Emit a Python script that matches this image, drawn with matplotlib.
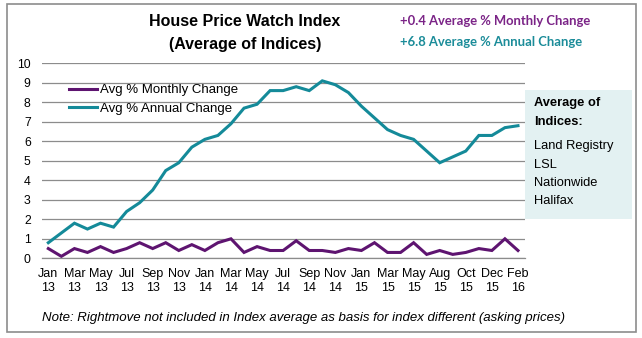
import matplotlib
matplotlib.use("Agg")
import matplotlib.pyplot as plt
from matplotlib.patches import Rectangle

months = ["Jan 13","Feb 13","Mar 13","Apr 13","May 13","Jun 13","Jul 13","Aug 13","Sep 13","Oct 13","Nov 13","Dec 13",
          "Jan 14","Feb 14","Mar 14","Apr 14","May 14","Jun 14","Jul 14","Aug 14","Sep 14","Oct 14","Nov 14","Dec 14",
          "Jan 15","Feb 15","Mar 15","Apr 15","May 15","Jul 15","Aug 15","Sep 15","Oct 15","Nov 15","Dec 15","Jan 16","Feb 16"]
monthly = [0.5,0.1,0.5,0.3,0.6,0.3,0.5,0.8,0.5,0.8,0.4,0.7,
           0.4,0.8,1.0,0.3,0.6,0.4,0.4,0.9,0.4,0.4,0.3,0.5,
           0.4,0.8,0.3,0.3,0.8,0.2,0.4,0.2,0.3,0.5,0.4,1.0,0.4]
annual = [0.8,1.3,1.8,1.5,1.8,1.6,2.4,2.85,3.5,4.5,4.9,5.7,
          6.1,6.3,6.9,7.7,7.9,8.6,8.6,8.8,8.6,9.1,8.9,8.5,
          7.8,7.2,6.6,6.3,6.1,5.5,4.9,5.2,5.5,6.3,6.3,6.7,6.8]
tick_labels = [m.replace(" ", "\n") for m in months]

PURPLE = "#5E1470"
TEAL = "#148A99"

fig = plt.figure(figsize=(6.42, 3.38), dpi=100)
plt.rcParams['font.family'] = ['Liberation Sans', 'DejaVu Sans']
W, H = 642, 338
ax = fig.add_axes([41.8/W, 1-258.3/H, (524.5-41.8)/W, (258.3-63.3)/H])

x = list(range(len(months)))
ax.plot(x, monthly, color=PURPLE, lw=2.2, label="Avg % Monthly Change", solid_joinstyle='miter')
ax.plot(x, annual, color=TEAL, lw=2.2, label="Avg % Annual Change", solid_joinstyle='miter')
ax.set_xlim(-0.5, len(months)-0.5)
ax.set_ylim(0, 10)
ax.set_yticks(range(0, 11))
ax.yaxis.grid(True, color="#8c8c8c", lw=0.9)
ax.set_axisbelow(True)
ax.set_xticks(x[::2])
ax.set_xticklabels(tick_labels[::2], fontsize=9, linespacing=1.2)
ax.tick_params(axis='both', length=0, colors="#000000")
ax.tick_params(axis='y', pad=8, labelsize=8.8)
ax.tick_params(axis='x', pad=7, labelsize=9)
for s in ["top", "right", "left"]:
    ax.spines[s].set_visible(False)
ax.spines["bottom"].set_color("#8c8c8c")
ax.spines["bottom"].set_linewidth(0.9)

leg = ax.legend(loc="upper left", bbox_to_anchor=(0.045, 0.92), frameon=False, fontsize=9.5,
                handlelength=2.1, handletextpad=0.3, labelspacing=0.45, borderaxespad=0)

# Title
fig.text(245/W, 1-21/H, "House Price Watch Index", ha="center", va="center", fontsize=11.5, fontweight="bold")
fig.text(245/W, 1-44/H, "(Average of Indices)", ha="center", va="center", fontsize=11.5, fontweight="bold")
fig.text(400/W, 1-21/H, "+0.4 Average % Monthly Change", ha="left", va="center", fontsize=9.4,
         fontweight="bold", color="#7B2487", family=["Lato", "DejaVu Sans"])
fig.text(400/W, 1-42/H, "+6.8 Average % Annual Change", ha="left", va="center", fontsize=9.4,
         fontweight="bold", color="#1B8C99", family=["Lato", "DejaVu Sans"])

# Right info box
fig.patches.append(Rectangle((524.5/W, 1-219/H), (631.5-524.5)/W, (219-90)/H,
                             transform=fig.transFigure, facecolor="#E3F1F2", edgecolor="none"))
fig.text(534/W, 1-103/H, "Average of", fontsize=9.3, fontweight="bold", va="center")
fig.text(534/W, 1-122/H, "Indices:", fontsize=9.3, fontweight="bold", va="center")
for i, t in enumerate(["Land Registry", "LSL", "Nationwide", "Halifax"]):
    fig.text(534/W, 1-(146+18.5*i)/H, t, fontsize=9.3, va="center")

# Note
fig.text(42/W, 1-318/H, "Note: Rightmove not included in Index average as basis for index different (asking prices)",
         fontsize=9.5, style="italic", va="center")

# Border
fig.patches.append(Rectangle((7/W, 1-332/H), (636-7)/W, (332-4)/H, transform=fig.transFigure,
                             facecolor="none", edgecolor="#8c8c8c", lw=1.2))

fig.savefig("out.png", dpi=100)
